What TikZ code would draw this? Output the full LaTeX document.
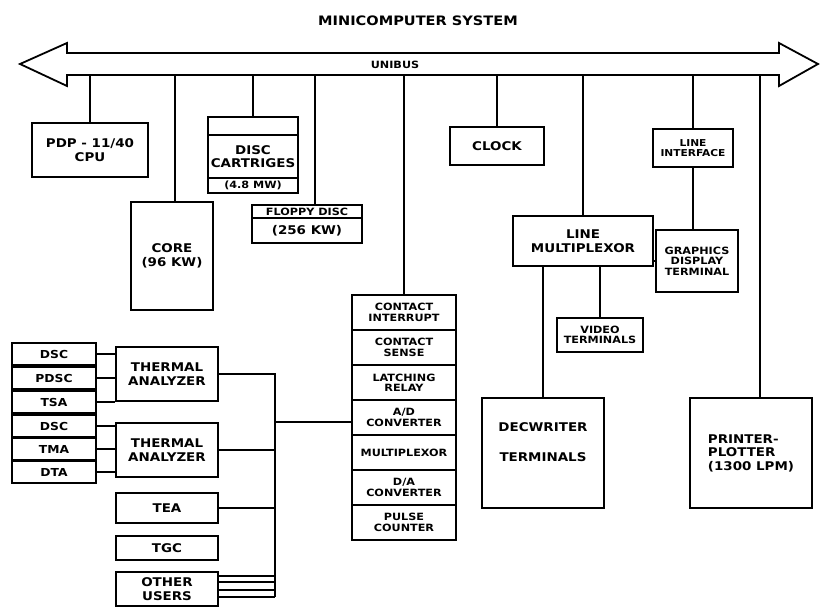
\documentclass[tikz,border=0pt]{standalone}
\usepackage{fontspec}
\setmainfont{DejaVu Sans}[FakeStretch=1.12]
\usetikzlibrary{positioning}

\begin{document}
\begin{tikzpicture}[
  x=1pt, y=-1pt,
  font=\fontsize{12}{13.5}\selectfont\bfseries,
  line width=1.8pt,
  box/.style={draw, align=center, inner sep=0pt, line width=1.8pt},
  small/.style={font=\fontsize{10}{10.4}\selectfont\bfseries},
  tag/.style={box, font=\fontsize{11}{12}\selectfont\bfseries,
              minimum width=84pt, minimum height=22pt},
  unit/.style={box, minimum width=102pt},
]
\useasboundingbox (0,0) rectangle (821,607);

% unibus
\draw[line join=miter] (20,64) -- (67,43) -- (67,53) -- (779,53) -- (779,43)
  -- (818,64) -- (779,86) -- (779,75) -- (67,75) -- (67,86) -- cycle;
\coordinate (busb) at (0,75);
\node[font=\fontsize{13}{14}\selectfont\bfseries] (title) at (418,21) {MINICOMPUTER SYSTEM};
\node[small] (unibus) at (395,65) {UNIBUS};

\node[box, minimum width=116pt, minimum height=54pt] (cpu) at (90,150) {PDP - 11/40\\CPU};
\node[box, minimum width=82pt, minimum height=108pt] (core) at (172,256) {CORE\\(96 KW)};
\node[box, minimum width=90pt, minimum height=18pt] (disctop) at (253,126) {};
\node[box, minimum width=90pt, minimum height=43pt] (discmid) at (253,156.5) {DISC\\CARTRIGES};
\node[box, small, minimum width=90pt, minimum height=15pt] (discbot) at (253,185.5) {(4.8 MW)};
\node[box, small, minimum width=110pt, minimum height=13pt] (flopa) at (307,211.5) {FLOPPY DISC};
\node[box, minimum width=110pt, minimum height=25pt] (flopb) at (307,230.5) {(256 KW)};
\node[box, minimum width=94pt, minimum height=38pt] (clock) at (497,146) {CLOCK};
\node[box, small, font=\fontsize{9.5}{10}\selectfont\bfseries, minimum width=80pt, minimum height=38pt] (lif) at (693,148) {LINE\\INTERFACE};
\node[box, minimum width=140pt, minimum height=50pt] (mux) at (583,241) {LINE\\MULTIPLEXOR};
\node[box, small, minimum width=82pt, minimum height=62pt] (gfx) at (697,261) {GRAPHICS\\DISPLAY\\TERMINAL};
\node[box, small, minimum width=86pt, minimum height=34pt] (video) at (600,335) {VIDEO\\TERMINALS};
\node[box, minimum width=122pt, minimum height=110pt] (decw) at (543,453) {DECWRITER\\[16pt]TERMINALS\\[8pt]\mbox{}};
\node[box, align=left, minimum width=122pt, minimum height=110pt] (prn) at (751,453) {PRINTER-\\PLOTTER\\(1300 LPM)};

% digital i/o stack
\foreach \lbl [count=\i from 0] in {{CONTACT\\INTERRUPT}, {CONTACT\\SENSE},
    {LATCHING\\RELAY}, {A/D\\CONVERTER}, {MULTIPLEXOR}, {D/A\\CONVERTER},
    {PULSE\\COUNTER}}
  \node[box, small, minimum width=104pt, minimum height=35pt] (io\i)
    at (404,312.5+35*\i) {\lbl};

% laboratory instruments
\foreach \lbl/\yy [count=\i] in {DSC/354, PDSC/378, TSA/402, DSC/426, TMA/449, DTA/472}
  \node[tag] (s\i) at (54,\yy) {\lbl};
\node[unit, minimum height=54pt] (ta1) at (167,374) {THERMAL\\ANALYZER};
\node[unit, minimum height=54pt] (ta2) at (167,450) {THERMAL\\ANALYZER};
\node[unit, minimum height=30pt] (tea) at (167,508) {TEA};
\node[unit, minimum height=24pt] (tgc) at (167,548) {TGC};
\node[unit, minimum height=34pt] (oth) at (167,589) {OTHER\\USERS};

\foreach \i in {1,2,3} \draw (s\i.east) -- (s\i.east -| ta1.west);
\foreach \i in {4,5,6} \draw (s\i.east) -- (s\i.east -| ta2.west);

\coordinate (col) at (275,373);
\coordinate (colend) at (275,597);
\draw (ta1.east) -- (ta1.east -| col) -- (colend);
\draw (ta2.east) -- (ta2.east -| col);
\draw (tea.east) -- (tea.east -| col);
\foreach \d in {13,7,-1,-8}
  \draw ([yshift=\d pt]oth.east) -- ([yshift=\d pt]oth.east -| col);
\draw ([yshift=-4.5pt]io3.west) -- ([yshift=-4.5pt]io3.west -| col);

% drops from the bus
\draw (cpu.north) -- (cpu.north |- busb);
\draw ([xshift=3pt]core.north) -- ([xshift=3pt]core.north |- busb);
\draw (disctop.north) -- (disctop.north |- busb);
\draw ([xshift=8pt]flopa.north) -- ([xshift=8pt]flopa.north |- busb);
\draw (io0.north) -- (io0.north |- busb);
\draw (clock.north) -- (clock.north |- busb);
\draw (mux.north) -- (mux.north |- busb);
\draw (lif.north) -- (lif.north |- busb);
\draw ([xshift=9pt]prn.north) -- ([xshift=9pt]prn.north |- busb);

\draw (lif.south) -- (lif.south |- gfx.north);
\draw (gfx.west) -- (gfx.west -| mux.east);
\draw (decw.north) -- (decw.north |- mux.south);
\draw (video.north) -- (video.north |- mux.south);
\end{tikzpicture}
\end{document}
